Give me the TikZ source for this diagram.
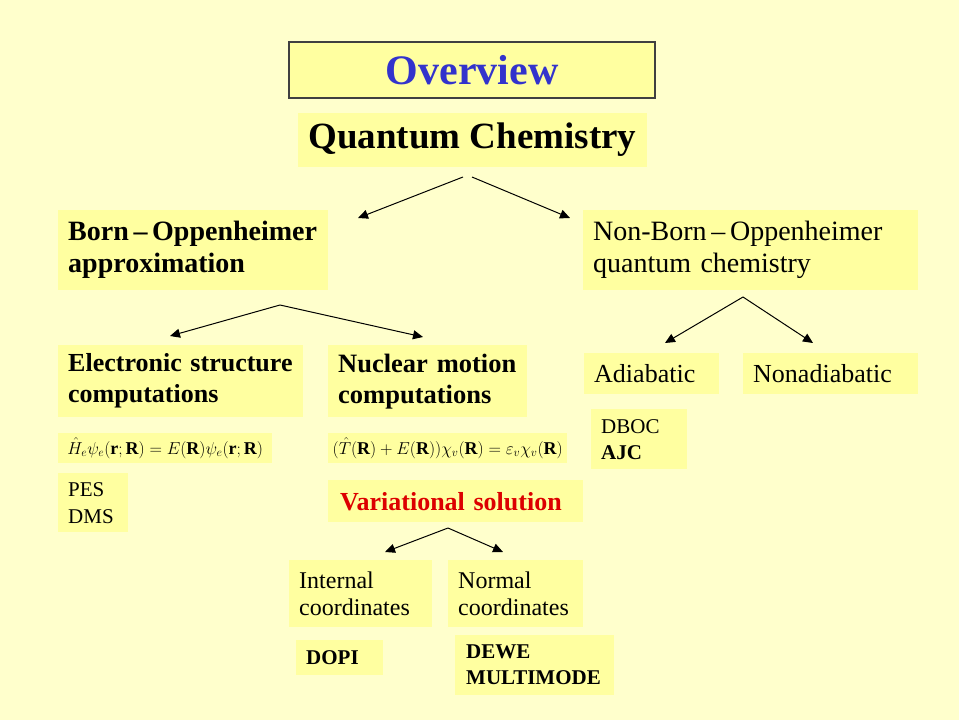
\documentclass[tikz,border=0pt]{standalone}
\usepackage{fontspec}
\setmainfont{Liberation Serif}
\usetikzlibrary{arrows.meta}
\definecolor{cBg}{RGB}{255,255,204}
\definecolor{cBox}{RGB}{255,255,160}
\definecolor{cBlue}{RGB}{51,51,204}
\definecolor{cRed}{RGB}{220,0,0}
\newcommand{\fsz}[2]{\fontsize{#1}{#2}\selectfont}

\begin{document}
\begin{tikzpicture}[x=1pt, y=-1pt,
    ybox/.style={fill=cBox, inner xsep=10pt, inner ysep=0pt, anchor=north west, align=left},
    mbox/.style={fill=cBox, inner sep=0pt, anchor=north west},
    arr/.style={-{Triangle[length=10pt,width=9pt]}, line width=1pt}]
    \useasboundingbox[fill=cBg] (0,0) rectangle (959,720);

    % title
    \node[fill=cBox, draw=black!75, line width=1.5pt, minimum width=366pt, minimum height=56pt, inner sep=0pt,
          font=\fsz{42}{46}\bfseries, text=cBlue] (over) at (472,70) {Overview};
    \node[fill=cBox, minimum width=349pt, minimum height=54pt, inner sep=0pt,
          font=\fsz{37}{40}\bfseries] (qc) at (472.5,140) {Quantum Chemistry};

    % first level
    \node[ybox, text width=250pt, minimum height=80pt, font=\fsz{28}{32}\bfseries] (bo) at (58,210)
        {Born\,–\,Oppenheimer\\approximation};
    \node[ybox, text width=315pt, minimum height=80pt, font=\fsz{28}{32}] (nbo) at (583,210)
        {Non-Born\,–\,Oppenheimer\\quantum chemistry};

    % Born-Oppenheimer branch
    \node[ybox, inner xsep=0pt, text width=245pt, minimum height=72pt, font=\fsz{26}{31}\bfseries] (esc) at (58,345)
        {\hspace*{10pt}Electronic structure\\\hspace*{10pt}computations};
    \node[ybox, text width=179pt, minimum height=72pt, font=\fsz{26.5}{31}\bfseries] (nmc) at (328,345)
        {Nuclear motion\\computations};
    \node[mbox, minimum width=214pt, minimum height=30pt, font=\fsz{18}{22}] (eqe) at (58,433)
        {$\hat H_e\psi_e(\mathbf r;\mathbf R)=E(\mathbf R)\psi_e(\mathbf r;\mathbf R)$};
    \node[mbox, minimum width=239pt, minimum height=30pt, font=\fsz{18}{22}] (eqn) at (328,433)
        {$\bigl(\hat T(\mathbf R)+E(\mathbf R)\bigr)\chi_v(\mathbf R)=\varepsilon_v\chi_v(\mathbf R)$};
    \node[ybox, text width=50pt, minimum height=59pt, font=\fsz{21}{27}] (pes) at (58,473)
        {PES\\DMS};
    \node[ybox, inner xsep=12pt, text width=231pt, minimum height=42pt, font=\fsz{26}{30}\bfseries, text=cRed] (var) at (328,480)
        {Variational solution};

    % variational branch
    \node[ybox, text width=123pt, minimum height=67pt, font=\fsz{24}{27}] (intc) at (289,560)
        {Internal\\coordinates};
    \node[ybox, text width=115pt, minimum height=67pt, font=\fsz{24}{27}] (normc) at (448,560)
        {Normal\\coordinates};
    \node[ybox, text width=67pt, minimum height=35pt, font=\fsz{21}{26}\bfseries] (dopi) at (296,640)
        {DOPI};
    \node[ybox, inner xsep=11pt, text width=137pt, minimum height=60pt, font=\fsz{21}{26}\bfseries] (dewe) at (455,635)
        {DEWE\\MULTIMODE};

    % non-Born-Oppenheimer branch
    \node[ybox, text width=115pt, minimum height=41pt, font=\fsz{26}{30}] (adia) at (584,353)
        {Adiabatic};
    \node[ybox, text width=155pt, minimum height=41pt, font=\fsz{26}{30}] (nonad) at (743,353)
        {Nonadiabatic};
    \node[ybox, text width=76pt, minimum height=60pt, font=\fsz{21}{26}] (dboc) at (591,409)
        {DBOC\\\textbf{AJC}};

    % arrow ends
    \coordinate (qcL) at (463,177);
    \coordinate (qcR) at (472,177);
    \coordinate (boT) at (358,218);
    \coordinate (nboT) at (570,218);
    \coordinate (boA) at (280,305);
    \coordinate (escT) at (170,336);
    \coordinate (nmcT) at (423,337);
    \coordinate (nboA) at (743,297);
    \coordinate (adiaT) at (665,343);
    \coordinate (nonadT) at (813,343);
    \coordinate (varA) at (448,528);
    \coordinate (intcT) at (385,552);
    \coordinate (normcT) at (503,552);

    \draw[arr] (qcL) -- (boT);
    \draw[arr] (qcR) -- (nboT);
    \draw[arr] (boA) -- (escT);
    \draw[arr] (boA) -- (nmcT);
    \draw[arr] (nboA) -- (adiaT);
    \draw[arr] (nboA) -- (nonadT);
    \draw[arr] (varA) -- (intcT);
    \draw[arr] (varA) -- (normcT);
\end{tikzpicture}
\end{document}
